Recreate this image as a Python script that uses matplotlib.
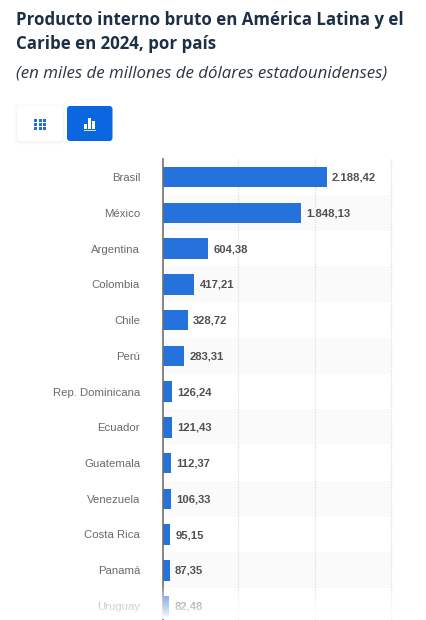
import numpy as np
import matplotlib
matplotlib.use("Agg")
import matplotlib.pyplot as plt
from matplotlib.patches import FancyBboxPatch, Rectangle
from matplotlib.colors import LinearSegmentedColormap

W, H = 426, 620

title_lines = ["Producto interno bruto en América Latina y el", "Caribe en 2024, por país"]
subtitle = "(en miles de millones de dólares estadounidenses)"
countries = ["Brasil", "México", "Argentina", "Colombia", "Chile", "Perú",
             "Rep. Dominicana", "Ecuador", "Guatemala", "Venezuela",
             "Costa Rica", "Panamá", "Uruguay"]
gdp = [2188.42, 1848.13, 604.38, 417.21, 328.72, 283.31, 126.24,
       121.43, 112.37, 106.33, 95.15, 87.35, 82.48]
grid_values = [1000, 2030, 3045]


def es_number(v):
    return f"{v:,.2f}".replace(",", "_").replace(".", ",").replace("_", ".")


fig = plt.figure(figsize=(W / 100, H / 100), dpi=100, facecolor="white")

# Bar chart area, placed in pixel terms
left, right, top, bottom = 163, 391, 159, 620
ax = fig.add_axes([left / W, 1 - bottom / H, (right - left) / W, (bottom - top) / H])
row_step = 35.75
ax.set_xlim(0, (right - left) / 0.0749)
ax.set_ylim((bottom - 177) / row_step, (top - 177) / row_step)
ax.set_facecolor("none")

ypos = np.arange(len(countries))
for i in ypos[1::2]:
    ax.axhspan(i - 0.5, i + 0.5, color="#fafafa", lw=0, zorder=0)
for g in grid_values:
    ax.axvline(g, color="#dddddd", lw=0.9, ls=(0, (1, 1)), zorder=1, clip_on=False)
ax.barh(ypos, gdp, height=20.5 / row_step, color="#2672dc", zorder=2)
for y, v in zip(ypos, gdp):
    ax.annotate(es_number(v), (v, y), xytext=(3.7, 0.3), textcoords="offset points",
                va="center_baseline", ha="left", fontsize=8.1, fontweight="bold",
                family="Liberation Sans", color="#505050", zorder=3)

ax.set_yticks(ypos, countries, family="Liberation Sans", fontsize=8.2, color="#6a6a6a")
ax.tick_params(axis="y", length=0, pad=16.5)
ax.set_xticks([])
for side in ["top", "right", "bottom"]:
    ax.spines[side].set_visible(False)
ax.spines["left"].set_color("#6f6f6f")
ax.spines["left"].set_linewidth(1.2)

# Page layer in pixel coordinates: heading, view switch, bottom fade
page = fig.add_axes([0, 0, 1, 1], zorder=5)
page.set_xlim(0, W)
page.set_ylim(H, 0)
page.axis("off")
page.patch.set_alpha(0)

for text, y in zip(title_lines, [20, 44]):
    page.text(16, y, text, family="Open Sans", fontweight="bold", fontsize=12.2,
              color="#1c2f45", va="center", ha="left")
page.text(16, 73, subtitle, family="Open Sans", style="italic", fontsize=12.15,
          color="#2a3644", va="center", ha="left")

# Soft shadow under the inactive button
for off, a in [(3, 0.006), (2, 0.01), (1, 0.015)]:
    page.add_patch(FancyBboxPatch((17 - off, 106 - off + 1), 46 + 2 * off, 35 + 2 * off,
                                  boxstyle="round,pad=0,rounding_size=3", fc="black",
                                  ec="none", alpha=a))
page.add_patch(FancyBboxPatch((17, 106), 46, 35, boxstyle="round,pad=0,rounding_size=3",
                              fc="white", ec="none"))
page.add_patch(FancyBboxPatch((67, 106), 45.5, 35, boxstyle="round,pad=0,rounding_size=3",
                              fc="#0b67e0", ec="none"))

# Table icon
for cx in [34, 38.5, 43]:
    for cy in [119, 122.9, 126.8]:
        page.add_patch(Rectangle((cx, cy), 3.3, 2.9, fc="#1f6fd6", ec="none"))
# Chart icon
for x0, y0, bw in [(84.2, 124, 3.0), (87.8, 118, 3.2), (91.8, 121, 3.2)]:
    page.add_patch(Rectangle((x0, y0), bw, 129.0 - y0, fc="white", ec="none"))
page.add_patch(Rectangle((84, 129.5), 12, 1.3, fc="#cfe0f8", ec="none"))

# Bottom of the page fades out to white
fade = LinearSegmentedColormap.from_list("fade", [(1, 1, 1, 0), (1, 1, 1, 0.45),
                                                  (1, 1, 1, 0.7), (1, 1, 1, 1)])
ramp = np.linspace(0, 1, 64)[:, None]
page.imshow(ramp, cmap=fade, extent=(0, W, 619, 585), aspect="auto", zorder=10,
            interpolation="bilinear")
page.set_xlim(0, W)
page.set_ylim(H, 0)

fig.savefig("out.png", dpi=100)
